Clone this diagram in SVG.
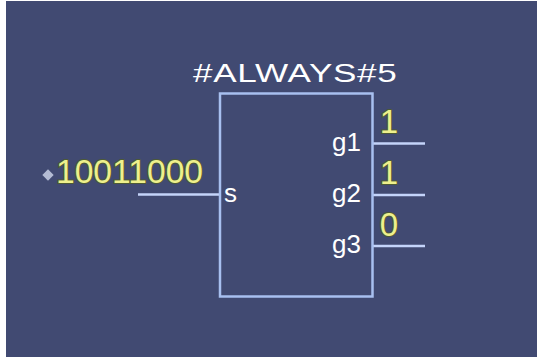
<svg xmlns="http://www.w3.org/2000/svg" width="538" height="360" viewBox="0 0 538 360">
<style>
.lbl{font-family:"Liberation Sans",Arial,sans-serif;font-size:26px;fill:#ffffff}
.val{font-family:"Liberation Sans",Arial,sans-serif;font-size:33px;fill:#eef08c;stroke:#4d5a36;stroke-width:2;paint-order:stroke}
.wire{stroke:#c4d4fa;stroke-width:2.5;fill:none}
</style>
<rect x="0" y="0" width="538" height="360" fill="#ffffff"/>
<rect x="6" y="1" width="531" height="356" fill="#414a72"/>
<g id="connectors">
<line class="wire" x1="138" y1="194.5" x2="220" y2="194.5"/>
<line class="wire" x1="373" y1="143.5" x2="425" y2="143.5"/>
<line class="wire" x1="373" y1="195" x2="425" y2="195"/>
<line class="wire" x1="373" y1="246" x2="425" y2="246"/>
</g>
<g id="always5">
<rect x="220" y="93.5" width="152.5" height="203" fill="none" stroke="#a8c0f0" stroke-width="2.5"/>
<text class="lbl" transform="translate(193 81.5) scale(1.35 1)" x="0" y="0" textLength="151" lengthAdjust="spacing">#ALWAYS#5</text>
<text class="lbl" x="224" y="202">s</text>
<text class="lbl" x="361" y="150.5" text-anchor="end">g1</text>
<text class="lbl" x="361" y="202" text-anchor="end">g2</text>
<text class="lbl" x="361" y="253" text-anchor="end">g3</text>
</g>
<g id="input-s">
<rect x="44" y="171" width="8" height="8" fill="#b4bcd4" transform="rotate(45 48 175)"/>
<text class="val" x="56" y="183" textLength="147" lengthAdjust="spacingAndGlyphs">10011000</text>
</g>
<g id="values">
<text class="val" x="389" y="133" text-anchor="middle">1</text>
<text class="val" x="389" y="184" text-anchor="middle">1</text>
<text class="val" x="389" y="236" text-anchor="middle">0</text>
</g>
</svg>
